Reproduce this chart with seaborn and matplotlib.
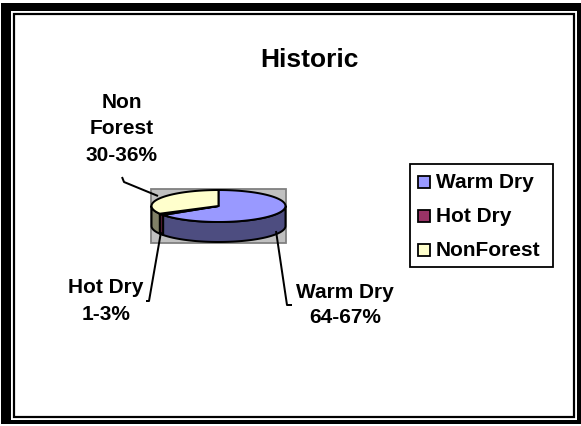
import numpy as np
import matplotlib
matplotlib.use("Agg")
import matplotlib.pyplot as plt
from matplotlib.patches import Rectangle, Polygon
import seaborn as sns

# ---- data -------------------------------------------------------------
categories = ["Warm Dry", "Hot Dry", "NonForest"]
shares = [65.5, 1.5, 33.0]                      # percent of area
callout_names = ["Warm Dry", "Hot Dry", "Non\nForest"]
range_labels = ["64-67%", "1-3%", "30-36%"]
chart_title = "Historic"

# face colours (top) and their shaded wall colours
top_colors = ["#9999FF", "#993366", "#FFFFCC"]
wall_colors = ["#4D4D80", "#4D1A33", "#808066"]

# ---- style ------------------------------------------------------------
sns.set_theme(style="white")
plt.rcParams["font.family"] = ["Liberation Sans", "DejaVu Sans"]
plt.rcParams["text.color"] = "black"
FS = 15

W, H = 581, 426
fig = plt.figure(figsize=(W / 100, H / 100), dpi=100)
ax = fig.add_axes([0, 0, 1, 1])
ax.set_xlim(0, W)
ax.set_ylim(H, 0)
ax.axis("off")

PX = 0.72  # points per pixel at 100 dpi

# ---- outer double frame -----------------------------------------------
ax.add_patch(Rectangle((1, 3), 580, 421, facecolor="black", edgecolor="none"))
ax.add_patch(Rectangle((11, 11), 566, 409, facecolor="white", edgecolor="none"))
ax.add_patch(Rectangle((14, 14), 560, 403, facecolor="none",
                       edgecolor="black", lw=2.2 * PX))

# ---- title ------------------------------------------------------------
ax.text(309, 60, chart_title, ha="center", va="center",
        fontsize=19, fontweight="bold", color="black")

# ---- plot area behind the pie -----------------------------------------
ax.add_patch(Rectangle((151, 189), 135, 54, facecolor="#C0C0C0",
                       edgecolor="#808080", lw=1.8 * PX))

# ---- tilted 3-D pie ---------------------------------------------------
cx, cy, rx, ry, depth = 218.5, 206.0, 67.0, 16.0, 20.0


def rim(a0, a1, dy=0.0, n=80):
    t = np.radians(np.linspace(a0, a1, n))
    return np.column_stack([cx + rx * np.sin(t), cy + dy - ry * np.cos(t)])


bounds = np.concatenate([[0], np.cumsum(shares)]) / np.sum(shares) * 360.0
edge_kw = dict(edgecolor="black", lw=2.0 * PX, joinstyle="round")

# side walls, only the front half (90..270 deg clockwise from 12 o'clock)
for i in range(len(categories)):
    a, b = max(bounds[i], 90.0), min(bounds[i + 1], 270.0)
    if b > a:
        pts = np.vstack([rim(a, b), rim(b, a, dy=depth)])
        ax.add_patch(Polygon(pts, closed=True, facecolor=wall_colors[i], **edge_kw))

# top faces
for i in range(len(categories)):
    pts = np.vstack([[cx, cy], rim(bounds[i], bounds[i + 1])])
    ax.add_patch(Polygon(pts, closed=True, facecolor=top_colors[i], **edge_kw))

# ---- callouts ---------------------------------------------------------
lead_kw = dict(color="black", lw=2.0 * PX, solid_capstyle="butt")
ax.plot([276, 287, 292], [231, 305, 305], **lead_kw)
ax.plot([161, 149, 146], [232, 301, 301], **lead_kw)
ax.plot([158, 124, 122], [196, 182, 177], **lead_kw)

callout_pos = [(345, 305), (106, 301), (122, 129)]
callout_spacing = [1.42, 1.52, 1.52]
for name, rng, (x, y), ls in zip(callout_names, range_labels,
                                 callout_pos, callout_spacing):
    ax.text(x, y, f"{name}\n{rng}", ha="center", va="center", color="black",
            fontsize=FS, fontweight="bold", linespacing=ls)

# ---- legend -----------------------------------------------------------
ax.add_patch(Rectangle((410, 164), 143, 103, facecolor="white",
                       edgecolor="black", lw=1.8 * PX))
for i, cat in enumerate(categories):
    y = 182 + 34 * i
    ax.add_patch(Rectangle((418, y - 6), 12, 12, facecolor=top_colors[i],
                           edgecolor="black", lw=1.8 * PX))
    ax.text(436, y, cat, ha="left", va="center", color="black",
            fontsize=FS, fontweight="bold")

fig.savefig("out.png", dpi=100)
